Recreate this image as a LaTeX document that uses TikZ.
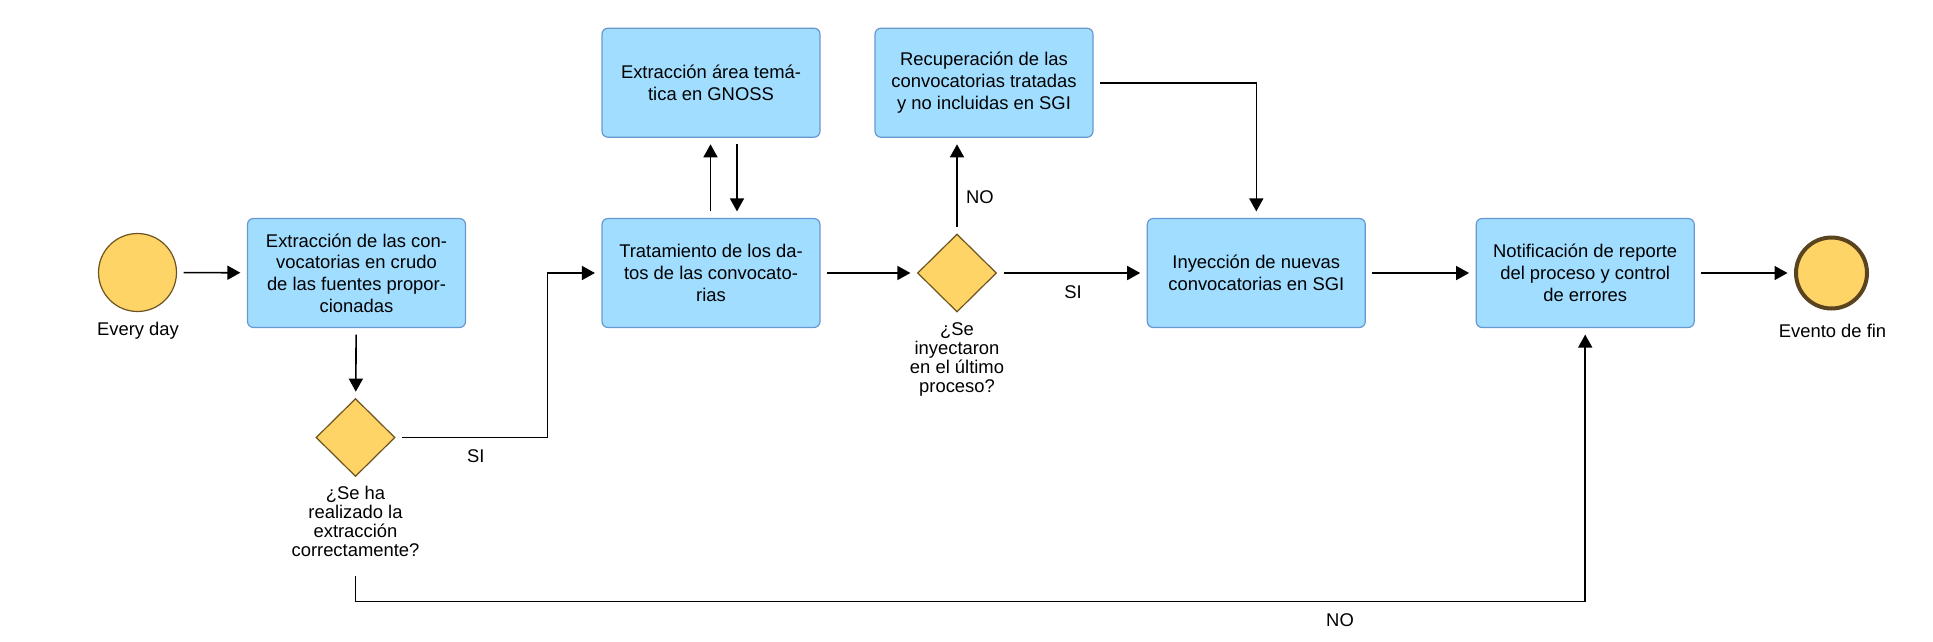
\documentclass[tikz,border=0pt]{standalone}
\usepackage{fontspec}
\setmainfont{Liberation Sans}
\usetikzlibrary{shapes.geometric,arrows.meta}
\definecolor{boxfill}{RGB}{160,221,255}
\definecolor{boxline}{RGB}{104,152,208}
\definecolor{gold}{RGB}{255,212,102}
\definecolor{goldline}{RGB}{107,83,32}
\definecolor{endline}{RGB}{90,68,32}
\tikzset{
  task/.style={draw=boxline, fill=boxfill, rounded corners=6pt, line width=1.2pt,
    minimum width=218pt, minimum height=109pt, inner sep=0pt, align=center,
    font=\fontsize{18.4}{21.7}\selectfont},
  gate/.style={draw=goldline, fill=gold, diamond, aspect=1, line width=1.2pt,
    minimum width=79pt, minimum height=78pt, inner sep=0pt},
  startev/.style={draw=goldline, fill=gold, circle, line width=1.2pt,
    minimum size=78pt, inner sep=0pt},
  endev/.style={draw=endline, fill=gold, circle, line width=4pt,
    minimum size=71pt, inner sep=0pt},
  lbl/.style={inner sep=0pt, align=center, font=\fontsize{18.4}{19}\selectfont},
  arr/.style={line width=1.6pt, -{Triangle[length=13pt,width=14pt]},
    shorten >=6.5pt, shorten <=6.5pt},
}
\begin{document}
\begin{tikzpicture}[x=1pt,y=-1pt]
\useasboundingbox (0,0) rectangle (1933,641);
% nodes
\node[startev] (start) at (137.5,272.5) {};
\node[lbl] (startl) at (138,331) {Every day};
\node[task] (b1) at (356.5,273) {Extracción de las con-\\vocatorias en crudo\\de las fuentes propor-\\cionadas};
\node[gate] (d1) at (355.5,437.5) {};
\node[lbl] (q1) at (355.5,521) {¿Se ha\\realizado la\\extracción\\correctamente?};
\node[task] (trat) at (711,273) {Tratamiento de los da-\\tos de las convocato-\\rias};
\node[task] (gnoss) at (711,82.7) {Extracción área temá-\\tica en GNOSS};
\node[gate] (d2) at (957,273) {};
\node[lbl] (q2) at (957,359) {¿Se\\inyectaron\\en el último\\proceso?};
\node[task] (recup) at (984,82.7) {Recuperación de las\\convocatorias tratadas\\y no incluidas en SGI};
\node[task] (iny) at (1256.3,273) {Inyección de nuevas\\convocatorias en SGI};
\node[task] (notif) at (1585.2,273) {Notificación de reporte\\del proceso y control\\de errores};
\node[endev] (fin) at (1831.5,273) {};
\node[lbl] (finl) at (1832.5,331) {Evento de fin};
% connectors
\draw[arr] (start) -- (b1);
\draw[arr] (b1) -- (d1);
\coordinate (c1) at (547.3,437.5);
\draw[arr] (d1.east) -- (c1) |- (trat.west);
\node[lbl] (si1) at (475.7,455.7) {SI};
\draw[arr] ([xshift=-0.5pt]trat.north) -- ([xshift=-0.5pt]gnoss.south);
\draw[arr] ([xshift=26pt]gnoss.south) -- ([xshift=26pt]trat.north);
\draw[arr] (trat) -- (d2);
\draw[arr] (d2.north) -- (d2.north |- recup.south);
\node[lbl] (no1) at (980,197.3) {NO};
\draw[arr] (d2) -- (iny);
\node[lbl] (si2) at (1073,292) {SI};
\draw[arr] (recup.east) -| (iny.north);
\draw[arr] (iny) -- (notif);
\draw[arr] (notif) -- (fin);
\coordinate (n0) at (355.5,569);
\coordinate (n1) at (355.5,601.5);
\draw[arr] (n0) -- (n1) -| (notif.south);
\node[lbl] (no2) at (1340,620) {NO};
\end{tikzpicture}
\end{document}
